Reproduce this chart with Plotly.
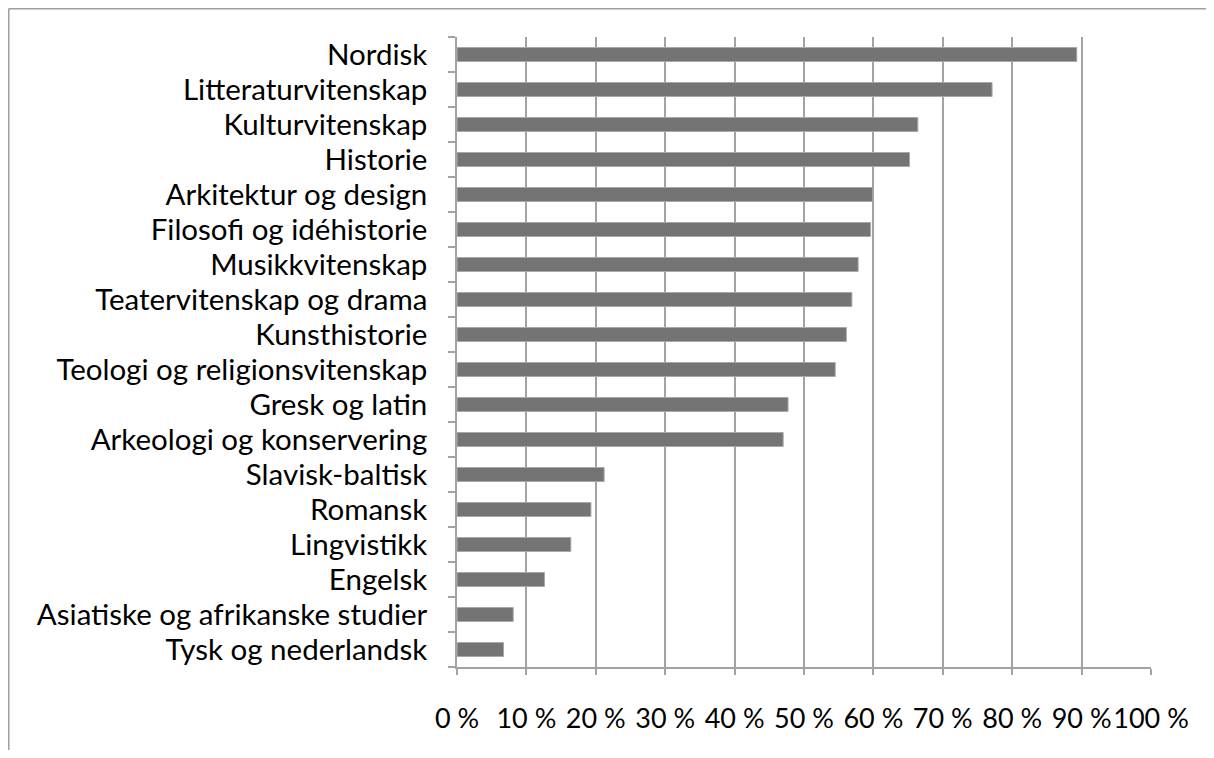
import plotly.graph_objects as go

categories = [
    "Nordisk", "Litteraturvitenskap", "Kulturvitenskap", "Historie",
    "Arkitektur og design", "Filosofi og idéhistorie", "Musikkvitenskap",
    "Teatervitenskap og drama", "Kunsthistorie", "Teologi og religionsvitenskap",
    "Gresk og latin", "Arkeologi og konservering", "Slavisk-baltisk", "Romansk",
    "Lingvistikk", "Engelsk", "Asiatiske og afrikanske studier", "Tysk og nederlandsk",
]
values = [89.3, 77.1, 66.4, 65.2, 59.9, 59.6, 57.8, 56.9, 56.1, 54.5,
          47.7, 47.0, 21.2, 19.3, 16.4, 12.6, 8.1, 6.7]
tick_vals = [0, 10, 20, 30, 40, 50, 60, 70, 80, 90, 100]
tick_text = ["0 %", "10 %", "20 %", "30 %", "40 %", "50 %", "60 %", "70 %", "80 %", "90 %", "100 %"]

# page body has an 8px margin; figure sized so the page is exactly 1214x758
W, H = 1198, 742
L, R, T, B = 449, 55, 29, 83
pw, ph = W - L - R, H - T - B

fig = go.Figure(go.Bar(
    x=values, y=categories, orientation="h",
    marker=dict(color="#747474", line=dict(color="#a8a8a8", width=1)),
    width=0.4,
))

grid = "#a3a3a3"
fig.update_layout(
    width=W, height=H,
    margin=dict(l=L, r=R, t=T, b=B),
    paper_bgcolor="white", plot_bgcolor="white",
    font=dict(family="Lato, Carlito, Calibri, sans-serif", color="black"),
    showlegend=False,
    xaxis=dict(
        range=[0, 100], tickmode="array", tickvals=tick_vals, ticktext=tick_text,
        tickangle=0,
        showgrid=True, gridcolor=grid, gridwidth=1.5,
        showline=True, linecolor=grid, linewidth=1.5,
        ticks="outside", ticklen=6, tickcolor=grid, tickwidth=1.5,
        ticklabelstandoff=21, tickfont=dict(size=27),
        zeroline=False,
    ),
    yaxis=dict(
        categoryorder="array", categoryarray=categories[::-1],
        autorange=False, range=[-0.5, len(categories) - 0.5],
        tickmode="linear", tick0=0, dtick=1, tickangle=0,
        showgrid=False, showline=True, linecolor=grid, linewidth=1.5,
        ticks="outside", tickson="boundaries", ticklen=7, tickcolor=grid, tickwidth=1.5,
        ticklabelstandoff=22, tickfont=dict(size=29.5),
    ),
)

# outer frame: only top and left edges are visible in the page
fx0 = (0.75 - L) / pw
fx1 = (W - L) / pw
fy_top = (H - B - 0.75) / ph
fy_bot = (H - B - H) / ph
frame = dict(color="#a0a0a0", width=1.5)
fig.add_shape(type="line", xref="paper", yref="paper", x0=fx0, x1=fx1, y0=fy_top, y1=fy_top,
              line=frame, layer="below")
fig.add_shape(type="line", xref="paper", yref="paper", x0=fx0, x1=fx0, y0=fy_top, y1=fy_bot,
              line=frame, layer="below")

fig.write_html("out.html")
